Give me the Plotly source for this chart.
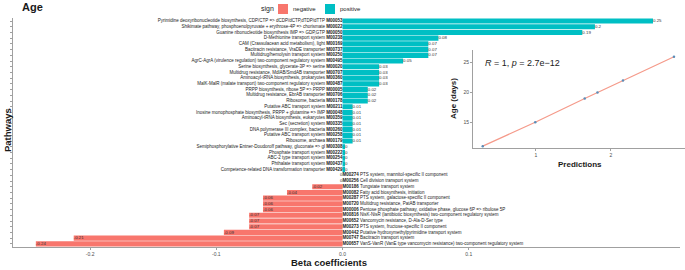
import plotly.graph_objects as go

W, H = 685, 270

pathway_names = [
    "Pyrimidine deoxyribonucleotide biosynthesis, CDP/CTP => dCDP/dCTP,dTDP/dTTP",
    "Shikimate pathway, phosphoenolpyruvate + erythrose-4P => chorismate",
    "Guanine ribonucleotide biosynthesis IMP => GDP,GTP",
    "D-Methionine transport system",
    "CAM (Crassulacean acid metabolism), light",
    "Bacitracin resistance, VraDE transporter",
    "Multidrug/hemolysin transport system",
    "AgrC-AgrA (virulence regulation) two-component regulatory system",
    "Serine biosynthesis, glycerate-3P => serine",
    "Multidrug resistance, MdlAB/SmdAB transporter",
    "Aminoacyl-tRNA biosynthesis, prokaryotes",
    "MalK-MalR (malate transport) two-component regulatory system",
    "PRPP biosynthesis, ribose 5P => PRPP",
    "Multidrug resistance, EbrAB transporter",
    "Ribosome, bacteria",
    "Putative ABC transport system",
    "Inosine monophosphate biosynthesis, PRPP + glutamine => IMP",
    "Aminoacyl-tRNA biosynthesis, eukaryotes",
    "Sec (secretion) system",
    "DNA polymerase III complex, bacteria",
    "Putative ABC transport system",
    "Ribosome, archaea",
    "Semiphosphorylative Entner-Doudoroff pathway, gluconate => gl",
    "Phosphate transport system",
    "ABC-2 type transport system",
    "Phthalate transport system",
    "Competence-related DNA transformation transporter",
    "PTS system, mannitol-specific II component",
    "Cell division transport system",
    "Tungstate transport system",
    "Fatty acid biosynthesis, initiation",
    "PTS system, galactose-specific II component",
    "Multidrug resistance, PatAB transporter",
    "Pentose phosphate pathway, oxidative phase, glucose 6P => ribulose 5P",
    "NisK-NisR (lantibiotic biosynthesis) two-component regulatory system",
    "Vancomycin resistance, D-Ala-D-Ser type",
    "PTS system, fructose-specific II component",
    "Putative hydroxymethylpyrimidine transport system",
    "Bacitracin transport system",
    "VanS-VanR (VanE type vancomycin resistance) two-component regulatory system",
]
module_ids = [
    "M00053", "M00022", "M00050", "M00238", "M00169", "M00737", "M00250", "M00495",
    "M00020", "M00707", "M00360", "M00487", "M00005", "M00706", "M00178", "M00211",
    "M00048", "M00359", "M00335", "M00260", "M00258", "M00179", "M00308", "M00222",
    "M00254", "M00437", "M00429", "M00274", "M00256", "M00186", "M00082", "M00287",
    "M00720", "M00006", "M00816", "M00652", "M00273", "M00442", "M00747", "M00657",
]
beta_values = [
    0.246, 0.20, 0.19, 0.076, 0.068, 0.068, 0.068, 0.048,
    0.029, 0.029, 0.029, 0.029, 0.02, 0.02, 0.02, 0.008,
    0.008, 0.008, 0.008, 0.008, 0.008, 0.008, 0.002, 0.002,
    0.002, 0.002, 0.002, 0.0, 0.0, -0.024, -0.044, -0.063,
    -0.063, -0.063, -0.074, -0.074, -0.074, -0.094, -0.213, -0.243,
]
signs = ["positive"] * 27 + ["negative"] * 13

x_ticks = [-0.2, -0.1, 0.0, 0.1]
x_tick_labels = ["-0.2", "-0.1", "0.0", "0.1"]

pred_values = [0.29, 0.99, 1.65, 1.82, 2.16, 2.84]
age_days = [11, 15, 19, 20, 22, 26]

COL = {"negative": "#F8766D", "positive": "#00BFC4"}
FONT = "Liberation Sans, Arial, sans-serif"

rows = list(range(1, len(beta_values) + 1))


def fmt(v):
    r = round(v, 2)
    if r == 0:
        return "0"
    return ("%g" % r)


def px(x):
    return x / W


def py(y):
    return 1 - y / H


fig = go.Figure()

for s in ["negative", "positive"]:
    idx = [i for i in range(len(rows)) if signs[i] == s]
    fig.add_trace(go.Bar(
        x=[beta_values[i] for i in idx], y=[rows[i] for i in idx],
        orientation="h", width=0.9, marker=dict(color=COL[s], line=dict(width=0)),
        showlegend=False, xaxis="x", yaxis="y", hoverinfo="skip",
    ))

# value labels (left-aligned at bar end); zero labels of negative rows sit left of zero
val_pos = ["middle left" if (signs[i] == "negative" and beta_values[i] == 0) else "middle right"
           for i in range(len(rows))]
fig.add_trace(go.Scatter(
    x=beta_values, y=rows, mode="text", text=[fmt(v) for v in beta_values],
    textposition=val_pos, textfont=dict(size=4.4, color="#333333", family=FONT),
    showlegend=False, xaxis="x", yaxis="y", cliponaxis=False, hoverinfo="skip",
))

# category labels
pos_idx = [i for i in range(len(rows)) if signs[i] == "positive"]
neg_idx = [i for i in range(len(rows)) if signs[i] == "negative"]
fig.add_trace(go.Scatter(
    x=[0] * len(pos_idx), y=[rows[i] for i in pos_idx], mode="text",
    text=["%s <b>%s</b>" % (pathway_names[i], module_ids[i]) for i in pos_idx],
    textposition="middle left", textfont=dict(size=4.5, color="#1a1a1a", family=FONT),
    showlegend=False, xaxis="x", yaxis="y", cliponaxis=False, hoverinfo="skip",
))
fig.add_trace(go.Scatter(
    x=[0] * len(neg_idx), y=[rows[i] for i in neg_idx], mode="text",
    text=["<b>%s</b> %s" % (module_ids[i], pathway_names[i]) for i in neg_idx],
    textposition="middle right", textfont=dict(size=4.5, color="#1a1a1a", family=FONT),
    showlegend=False, xaxis="x", yaxis="y", cliponaxis=False, hoverinfo="skip",
))

# inset
fig.add_trace(go.Scatter(
    x=pred_values, y=age_days, mode="lines", line=dict(color="#F59A8A", width=1.2),
    showlegend=False, xaxis="x2", yaxis="y2", hoverinfo="skip",
))
fig.add_trace(go.Scatter(
    x=pred_values, y=age_days, mode="markers", marker=dict(color="#5B8DB8", size=2.5),
    showlegend=False, xaxis="x2", yaxis="y2", hoverinfo="skip",
))

ann = []
ann.append(dict(text="<b>Age</b>", x=px(20), y=py(7), xref="paper", yref="paper",
                xanchor="left", yanchor="middle", showarrow=False,
                font=dict(size=11, color="#1a1a1a", family=FONT)))
ann.append(dict(text="<b>Pathways</b>", x=px(8), y=py(130), xref="paper", yref="paper",
                xanchor="center", yanchor="middle", textangle=-90, showarrow=False,
                font=dict(size=9.5, color="#1a1a1a", family=FONT)))
ann.append(dict(text="<b>Beta coefficients</b>", x=px(329), y=py(262), xref="paper", yref="paper",
                xanchor="center", yanchor="middle", showarrow=False,
                font=dict(size=9.5, color="#1a1a1a", family=FONT)))
# legend
ann.append(dict(text="sign", x=px(259), y=py(9), xref="paper", yref="paper",
                xanchor="left", yanchor="middle", showarrow=False,
                font=dict(size=7, color="#1a1a1a", family=FONT)))
ann.append(dict(text="negative", x=px(291), y=py(9), xref="paper", yref="paper",
                xanchor="left", yanchor="middle", showarrow=False,
                font=dict(size=6, color="#1a1a1a", family=FONT)))
ann.append(dict(text="positive", x=px(338), y=py(9), xref="paper", yref="paper",
                xanchor="left", yanchor="middle", showarrow=False,
                font=dict(size=6, color="#1a1a1a", family=FONT)))
# inset labels
ann.append(dict(text="<i>R</i> = 1, <i>p</i> = 2.7e\u221212", x=px(483), y=py(63), xref="paper", yref="paper",
                xanchor="left", yanchor="middle", showarrow=False,
                font=dict(size=9, color="#1a1a1a", family=FONT)))
ann.append(dict(text="<b>Age (days)</b>", x=px(453), y=py(99), xref="paper", yref="paper",
                xanchor="center", yanchor="middle", textangle=-90, showarrow=False,
                font=dict(size=8, color="#1a1a1a", family=FONT)))
ann.append(dict(text="<b>Predictions</b>", x=px(580), y=py(164), xref="paper", yref="paper",
                xanchor="center", yanchor="middle", showarrow=False,
                font=dict(size=8, color="#1a1a1a", family=FONT)))

shapes = [
    dict(type="rect", xref="paper", yref="paper", x0=px(278), x1=px(288), y0=py(14), y1=py(4),
         fillcolor=COL["negative"], line=dict(width=0)),
    dict(type="rect", xref="paper", yref="paper", x0=px(325), x1=px(335), y0=py(14), y1=py(4),
         fillcolor=COL["positive"], line=dict(width=0)),
]

axis_font = dict(size=5, color="#4d4d4d", family=FONT)
fig.update_layout(
    width=W, height=H, margin=dict(l=0, r=0, t=0, b=0),
    paper_bgcolor="white", plot_bgcolor="white",
    barmode="overlay", showlegend=False,
    annotations=ann, shapes=shapes,
    xaxis=dict(domain=[px(13), px(680)], range=[-0.2611, 0.2674], tickvals=x_ticks,
               ticktext=x_tick_labels, tickfont=axis_font, showgrid=False, zeroline=False,
               showline=True, linecolor="#a0a0a0", linewidth=1, ticks="outside", ticklen=2,
               tickcolor="#a0a0a0", anchor="y"),
    yaxis=dict(domain=[py(247.3), py(17.6)], range=[40.6, 0.4], tickvals=rows,
               showticklabels=False, showgrid=False, zeroline=False, showline=True,
               linecolor="#a0a0a0", linewidth=1, ticks="outside", ticklen=2,
               tickcolor="#a0a0a0", anchor="x"),
    xaxis2=dict(domain=[px(473), 1.0], range=[0.16, 2.987], tickvals=[1, 2],
                tickfont=axis_font, showgrid=False, zeroline=False, showline=True,
                linecolor="#a0a0a0", linewidth=1, ticks="outside", ticklen=2,
                tickcolor="#a0a0a0", anchor="y2"),
    yaxis2=dict(domain=[py(148), py(50)], range=[10.69, 27.13], tickvals=[15, 20, 25],
                tickfont=axis_font, showgrid=False, zeroline=False, showline=True,
                linecolor="#a0a0a0", linewidth=1, ticks="outside", ticklen=2,
                tickcolor="#a0a0a0", anchor="x2"),
)

fig.write_html(
    "out.html",
    config={"displayModeBar": False},
    post_script="document.body.style.margin='0';document.body.style.overflow='hidden';",
)
